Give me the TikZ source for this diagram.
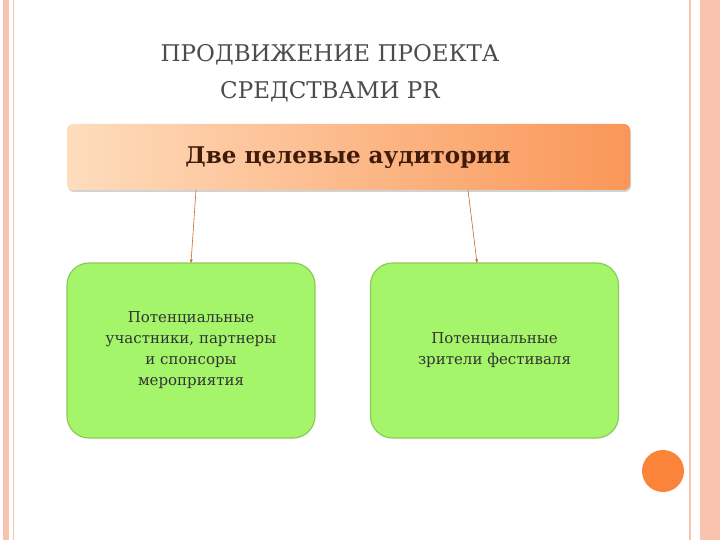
\documentclass[tikz,border=0pt]{standalone}
\usepackage{fontspec}
\setmainfont{DejaVu Serif}
\usetikzlibrary{shadows,arrows.meta}
\definecolor{pinkb}{HTML}{F9C3AE}
\definecolor{greenf}{HTML}{A5F56B}
\definecolor{greend}{HTML}{8CCB5A}
\definecolor{orng}{HTML}{F9843A}
\definecolor{brownt}{HTML}{3F1B0A}
\tikzset{
 gbox/.style={draw=greend,line width=1.2pt,fill=greenf,rounded corners=22pt,minimum width=248pt,minimum height=175pt,align=center,font=\fontsize{15}{21}\selectfont,text=black!80,inner sep=0pt},
 arr/.style={draw=orng!80!black,line width=0.6pt,-{Stealth[length=4pt,width=3pt]}}
}
\begin{document}
\begin{tikzpicture}[x=1pt,y=-1pt]
\useasboundingbox (0,0) rectangle (720,540);
\fill[white] (0,0) rectangle (720,540);
\fill[pinkb] (3,0) rectangle (9,540);
\draw[pinkb,line width=1pt] (13,0) -- (13,540);
\draw[pinkb,line width=1.2pt] (690,0) -- (690,540);
\fill[pinkb] (700,0) rectangle (720,540);
\node[align=center,text=black!70,font=\fontsize{23}{37}\selectfont] (title) at (330,73) {ПРОДВИЖЕНИЕ ПРОЕКТА\\СРЕДСТВАМИ PR};
\shade[left color=orange!25!white!90!pinkb,right color=orng!85!white,rounded corners=6pt,drop shadow={opacity=0.35,shadow xshift=1pt,shadow yshift=-2pt}] (67,124) rectangle (630,190);
\node[font=\bfseries\fontsize{23}{28}\selectfont,text=brownt] (top) at (348,158) {Две целевые аудитории};
\coordinate (tl) at (196,190);
\coordinate (tr) at (468,190);
\node[gbox] (l) at (191,350.5) {Потенциальные\\участники, партнеры\\и спонсоры\\мероприятия};
\node[gbox] (r) at (494.5,350.5) {Потенциальные\\зрители фестиваля};
\draw[arr] (tl) -- (191,263);
\draw[arr] (tr) -- (477,263);
\fill[orng] (663,471) circle (21);
\end{tikzpicture}
\end{document}
